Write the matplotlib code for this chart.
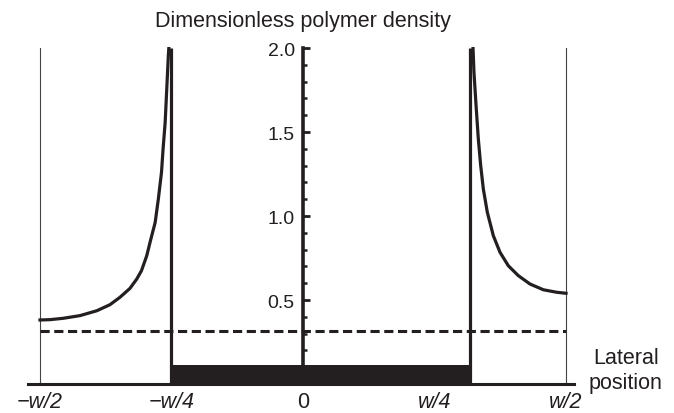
import matplotlib
matplotlib.use("Agg")
import matplotlib.pyplot as plt

# positions in units of w, density dimensionless
left_x = [-0.500, -0.481, -0.456, -0.424, -0.392, -0.367, -0.348, -0.329,
          -0.316, -0.307, -0.297, -0.290, -0.281, -0.275, -0.269, -0.266,
          -0.262, -0.259, -0.256, -0.254]
left_y = [0.381, 0.383, 0.391, 0.407, 0.436, 0.472, 0.516, 0.569,
          0.625, 0.675, 0.764, 0.853, 0.962, 1.101, 1.26, 1.399,
          1.558, 1.756, 1.954, 2.05]

right_x = [0.3226, 0.325, 0.329, 0.3333, 0.3378, 0.3428, 0.3504, 0.3618,
           0.3745, 0.3903, 0.4093, 0.4316, 0.4569, 0.4823, 0.500]
right_y = [2.05, 1.855, 1.657, 1.458, 1.30, 1.161, 1.022, 0.883,
           0.784, 0.704, 0.645, 0.595, 0.561, 0.546, 0.540]

step_left = -0.25
step_right = 0.3175
step_height = 0.113
mean_density = 0.316
half_width = 0.5

xtick_pos = [-0.5, -0.25, 0, 0.25, 0.5]
xtick_lab = ["\u2212w/2", "\u2212w/4", "0", "w/4", "w/2"]

ink = "#231f20"
plt.rcParams["font.family"] = ["Liberation Sans", "DejaVu Sans"]

fig = plt.figure(figsize=(6.74, 4.14), dpi=100)
ax = fig.add_axes([24.2 / 674, 29 / 414, 557.6 / 674, 337 / 414])
ax.set_xlim(-0.53, 0.53)
ax.set_ylim(0, 2.006)

# wall lines
for xv in (-half_width, half_width):
    ax.plot([xv, xv], [0, 2.0], color="#444444", lw=0.8)

# solid block
ax.fill_between([step_left, step_right], 0, step_height, color=ink, lw=0)

# vertical edges of block
for xv in (step_left, step_right):
    ax.plot([xv, xv], [0, 2.0], color=ink, lw=2.3, solid_capstyle="butt")

ax.plot(left_x, left_y, color=ink, lw=2.3)
ax.plot(right_x, right_y, color=ink, lw=2.3)

ax.plot([-half_width, half_width], [mean_density, mean_density], color=ink,
        lw=2.2, dashes=(3, 1.5))

# axes styling
for s in ("top", "right"):
    ax.spines[s].set_visible(False)
ax.spines["left"].set_position(("data", 0))
ax.spines["left"].set_bounds(0, 2.0)
ax.spines["left"].set_linewidth(2.6)
ax.spines["left"].set_color(ink)
ax.spines["left"].set_zorder(5)
ax.spines["bottom"].set_bounds(-0.522, 0.516)
ax.spines["bottom"].set_linewidth(2.2)
ax.spines["bottom"].set_color(ink)

ax.set_yticks([0.5, 1.0, 1.5, 2.0])
ax.set_yticklabels(["0.5", "1.0", "1.5", "2.0"])
ax.set_yticks([i / 10 for i in range(1, 20)], minor=True)
ax.tick_params(axis="y", which="major", direction="in", length=5, width=2,
               color=ink, labelsize=14, labelcolor=ink, pad=6)
ax.tick_params(axis="y", which="minor", direction="in", length=3, width=1.8,
               color=ink)

ax.set_xticks(xtick_pos)
ax.set_xticklabels(xtick_lab)
ax.tick_params(axis="x", length=0, labelsize=15.5, labelcolor=ink, pad=5)
for lab in ax.get_xticklabels():
    if "w" in lab.get_text():
        lab.set_fontstyle("italic")

fig.text(303 / 674, 1 - 21 / 414, "Dimensionless polymer density",
         ha="center", va="center", fontsize=15.5, color=ink)
fig.text(626 / 674, 1 - 371 / 414, "Lateral\nposition", ha="center",
         va="center", fontsize=15.5, color=ink, linespacing=1.2)

fig.savefig("out.png", dpi=100)
